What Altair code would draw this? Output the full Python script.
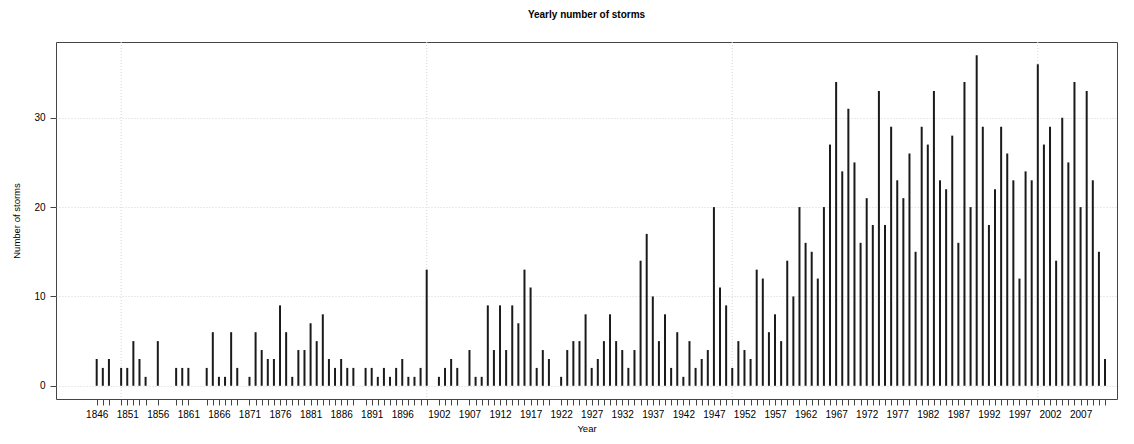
import altair as alt
import pandas as pd

years = [1846, 1847, 1848, 1850, 1851, 1852, 1853, 1854, 1856, 1859, 1860, 1861,
         1864, 1865, 1866, 1867, 1868, 1869, 1871, 1872, 1873, 1874, 1875, 1876,
         1877, 1878, 1879, 1880, 1881, 1882, 1883, 1884, 1885, 1886, 1887, 1888,
         1890, 1891, 1892, 1893, 1894, 1895, 1896, 1897, 1898, 1899, 1900,
         1902, 1903, 1904, 1905, 1907, 1908, 1909, 1910, 1911, 1912, 1913, 1914,
         1915, 1916, 1917, 1918, 1919, 1920,
         1922, 1923, 1924, 1925, 1926, 1927, 1928, 1929, 1930, 1931, 1932, 1933,
         1934, 1935, 1936, 1937, 1938, 1939, 1940, 1941, 1942, 1943, 1944, 1945,
         1946, 1947, 1948, 1949, 1950, 1951, 1952, 1953, 1954, 1955, 1956, 1957,
         1958, 1959, 1960, 1961, 1962, 1963, 1964, 1965, 1966, 1967, 1968, 1969,
         1970, 1971, 1972, 1973, 1974, 1975, 1976, 1977, 1978, 1979, 1980, 1981,
         1982, 1983, 1984, 1985, 1986, 1987, 1988, 1989, 1990, 1991, 1992, 1993,
         1994, 1995, 1996, 1997, 1998, 1999, 2000, 2001, 2002, 2003, 2004, 2005,
         2006, 2007, 2008, 2009, 2010, 2011]

storms = [3, 2, 3, 2, 2, 5, 3, 1, 5, 2, 2, 2,
          2, 6, 1, 1, 6, 2, 1, 6, 4, 3, 3, 9,
          6, 1, 4, 4, 7, 5, 8, 3, 2, 3, 2, 2,
          2, 2, 1, 2, 1, 2, 3, 1, 1, 2, 13,
          1, 2, 3, 2, 4, 1, 1, 9, 4, 9, 4, 9,
          7, 13, 11, 2, 4, 3,
          1, 4, 5, 5, 8, 2, 3, 5, 8, 5, 4, 2,
          4, 14, 17, 10, 5, 8, 2, 6, 1, 5, 2, 3,
          4, 20, 11, 9, 2, 5, 4, 3, 13, 12, 6, 8,
          5, 14, 10, 20, 16, 15, 12, 20, 27, 34, 24, 31,
          25, 16, 21, 18, 33, 18, 29, 23, 21, 26, 15, 29,
          27, 33, 23, 22, 28, 16, 34, 20, 37, 29, 18, 22,
          29, 26, 23, 12, 24, 23, 36, 27, 29, 14, 30, 25,
          34, 20, 33, 23, 15, 3]

label_years = [1846, 1851, 1856, 1861, 1866, 1871, 1876, 1881, 1886, 1891, 1896,
               1902, 1907, 1912, 1917, 1922, 1927, 1932, 1937, 1942, 1947, 1952,
               1957, 1962, 1967, 1972, 1977, 1982, 1987, 1992, 1997, 2002, 2007]

x_grid = [1850, 1900, 1950, 2000]
y_ticks = [0, 10, 20, 30]

df = pd.DataFrame({"Year": years, "Storms": storms})
gx = pd.DataFrame({"Year": x_grid})

FONT = "Liberation Sans"
xscale = alt.Scale(domain=[1839.34, 2012.96], nice=False, zero=False)
yscale = alt.Scale(domain=[-1.48, 38.48], nice=False, zero=False)

label_expr = ("indexof([" + ",".join(str(v) for v in label_years) +
              "], datum.value) >= 0 ? format(datum.value, 'd') : ''")

x_axis = alt.Axis(
    values=years, labelExpr=label_expr, labelOverlap=False, labelFlush=False,
    labelBound=False, grid=False, domain=False, tickSize=6, tickColor="#444444",
    labelFontSize=10, labelColor="#000000", labelPadding=4, labelFont=FONT,
    title="Year", titleFont=FONT, titleFontSize=9.5, titleFontWeight="normal",
    titleColor="#000000", titlePadding=4,
)

y_axis = alt.Axis(
    values=y_ticks, grid=True, gridDash=[1, 2], gridColor="#d4d4d4",
    domain=False, tickSize=6, tickColor="#444444", labelFontSize=10,
    labelColor="#000000", labelPadding=5, labelFont=FONT,
    title="Number of storms", titleFont=FONT, titleFontSize=9.5,
    titleFontWeight="normal", titleColor="#000000", titlePadding=12,
)

grid = alt.Chart(gx).mark_rule(
    color="#d4d4d4", strokeDash=[1, 2], strokeWidth=1
).encode(
    x=alt.X("Year:Q", scale=xscale, axis=x_axis),
)

bars = alt.Chart(df).mark_rule(color="#1a1a1a", strokeWidth=2).encode(
    x=alt.X("Year:Q", scale=xscale, axis=x_axis),
    y=alt.Y("Storms:Q", scale=yscale, axis=y_axis),
    y2=alt.datum(0),
)

chart = alt.layer(grid, bars).properties(
    width=1061,
    height=357,
    title=alt.TitleParams("Yearly number of storms", font=FONT, fontSize=10,
                          fontWeight="bold", anchor="middle", offset=22,
                          color="#000000"),
    autosize=alt.AutoSizeParams(type="none"),
    padding={"left": 48, "top": 34, "right": 9, "bottom": 37},
    background="white",
).configure_view(stroke="#444444", strokeWidth=1)

chart.save("out.html", embed_options={"renderer": "svg", "actions": False})
